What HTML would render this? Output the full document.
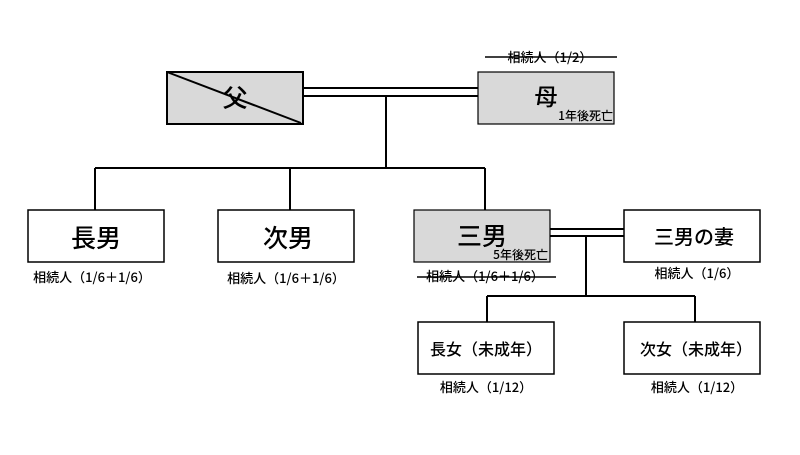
<!DOCTYPE html>
<html><head><meta charset="utf-8"><style>
body{margin:0;width:800px;height:450px;background:#fff;overflow:hidden}
svg text{font-family:"Noto Sans CJK JP",sans-serif;fill:#000}
</style></head><body>
<svg width="800" height="450" viewBox="0 0 800 450">
<g stroke="#000" stroke-width="2" fill="none">
<rect x="167" y="72" width="136" height="52" fill="#d9d9d9"/>
<line x1="167" y1="72" x2="301" y2="123"/>
<rect x="478" y="72" width="136" height="52" fill="#d9d9d9" stroke-width="1.2"/>
<line x1="303" y1="88" x2="478" y2="88"/>
<line x1="303" y1="96" x2="478" y2="96"/>
<line x1="386" y1="96" x2="386" y2="168"/>
<line x1="95" y1="168" x2="485" y2="168"/>
<line x1="95" y1="168" x2="95" y2="210"/>
<line x1="290" y1="168" x2="290" y2="210"/>
<line x1="485" y1="168" x2="485" y2="210"/>
<rect x="28" y="210" width="136" height="52" fill="#fff" stroke-width="1.5"/>
<rect x="218" y="210" width="136" height="52" fill="#fff" stroke-width="1.5"/>
<rect x="414" y="210" width="136" height="52" fill="#d9d9d9" stroke-width="1.2"/>
<rect x="624" y="210" width="136" height="52" fill="#fff" stroke-width="1.5"/>
<line x1="550" y1="229" x2="624" y2="229"/>
<line x1="550" y1="236" x2="624" y2="236"/>
<line x1="586" y1="236" x2="586" y2="296"/>
<line x1="487" y1="296" x2="695" y2="296"/>
<line x1="487" y1="296" x2="487" y2="322"/>
<line x1="695" y1="296" x2="695" y2="322"/>
<rect x="418" y="322" width="136" height="52" fill="#fff" stroke-width="1.5"/>
<rect x="624" y="322" width="136" height="52" fill="#fff" stroke-width="1.5"/>
<line x1="485" y1="57" x2="617" y2="57" stroke-width="1.5"/>
<line x1="417" y1="277" x2="556" y2="277" stroke-width="1.5"/>
</g>
<g text-anchor="middle" font-weight="500">
<text x="235" y="107" font-size="25">父</text>
<text x="546" y="105" font-size="23">母</text>
<text x="96" y="247" font-size="25">長男</text>
<text x="288" y="247" font-size="25">次男</text>
<text x="482" y="245" font-size="25">三男</text>
<text x="694" y="244" font-size="20">三男の妻</text>
<text x="486" y="355" font-size="16">長女（未成年）</text>
<text x="696" y="355" font-size="16">次女（未成年）</text>
<text x="550" y="62" font-size="13">相続人（1/2）</text>
<text x="92" y="282" font-size="13">相続人（1/6＋1/6）</text>
<text x="286" y="283" font-size="13">相続人（1/6＋1/6）</text>
<text x="485" y="281" font-size="13">相続人（1/6＋1/6）</text>
<text x="697" y="278" font-size="13">相続人（1/6）</text>
<text x="486" y="392" font-size="13">相続人（1/12）</text>
<text x="697" y="392" font-size="13">相続人（1/12）</text>
</g>
<g text-anchor="end" font-size="12" font-weight="500">
<text x="613" y="120">1年後死亡</text>
<text x="548" y="259">5年後死亡</text>
</g>
</svg>
</body></html>
